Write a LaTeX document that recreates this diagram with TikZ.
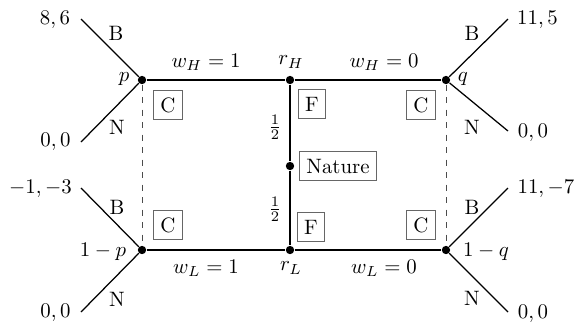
\documentclass[tikz,border=0pt]{standalone}
\begin{document}
\begin{tikzpicture}[x=0.48pt,y=-0.48pt,
  dot/.style={circle,fill=black,inner sep=0pt,minimum size=4pt},
  mainline/.style={line width=0.9pt},
  branch/.style={line width=0.6pt},
  info/.style={dashed,line width=0.4pt,black!70},
  lbox/.style={draw=black!60,line width=0.4pt,inner sep=3.4pt},
  txt/.style={inner sep=0pt}]
\useasboundingbox (0,0) rectangle (581,324);
% decision nodes
\node[dot] (p) at (142,80) {};
\node[dot] (q) at (446,80) {};
\node[dot] (lp) at (142,250) {};
\node[dot] (lq) at (446,250) {};
\node[dot] (rH) at (290,80) {};
\node[dot] (rL) at (290,250) {};
\node[dot] (nat) at (290,166) {};
% branch ends
\coordinate (pB) at (81,19);
\coordinate (pN) at (81,142);
\coordinate (qB) at (508,19);
\coordinate (qN) at (508,131);
\coordinate (lpB) at (81,188);
\coordinate (lpN) at (81,312);
\coordinate (lqB) at (508,188);
\coordinate (lqN) at (508,312);
% main lines
\draw[mainline] (p) -- (rH) -- (q);
\draw[mainline] (lp) -- (rL) -- (lq);
\draw[mainline] (rH) -- (nat) -- (rL);
% info sets
\draw[info] (p) -- (lp);
\draw[info] (q) -- (lq);
% branches
\draw[branch] (p) -- (pB);
\draw[branch] (p) -- (pN);
\draw[branch] (q) -- (qB);
\draw[branch] (q) -- (qN);
\draw[branch] (lp) -- (lpB);
\draw[branch] (lp) -- (lpN);
\draw[branch] (lq) -- (lqB);
\draw[branch] (lq) -- (lqN);
% payoffs
\node[txt] (t1) at (55,20) {$8,6$};
\node[txt] (t2) at (55.5,142) {$0,0$};
\node[txt] (t3) at (537.5,20) {$11,5$};
\node[txt] (t4) at (533,133) {$0,0$};
\node[txt] (t5) at (40.5,189) {$-1,-3$};
\node[txt] (t6) at (55.5,313) {$0,0$};
\node[txt] (t7) at (546,189) {$11,-7$};
\node[txt] (t8) at (533,314) {$0,0$};
% action labels
\node[txt] (b1) at (116,33) {B};
\node[txt] (n1) at (117,127) {N};
\node[txt] (b2) at (472,33) {B};
\node[txt] (n2) at (472,127) {N};
\node[txt] (b3) at (117,207) {B};
\node[txt] (n3) at (117,299) {N};
\node[txt] (b4) at (472,207) {B};
\node[txt] (n4) at (472,298) {N};
% beliefs
\node[txt] (lp1) at (124,79) {$p$};
\node[txt] (lq1) at (463,79) {$q$};
\node[txt] (lp2) at (103,252) {$1-p$};
\node[txt] (lq2) at (486,252) {$1-q$};
% wage labels
\node[txt] (w1) at (206,62) {$w_H=1$};
\node[txt] (w2) at (384,62) {$w_H=0$};
\node[txt] (w3) at (206,268) {$w_L=1$};
\node[txt] (w4) at (384,268) {$w_L=0$};
\node[txt] (rh) at (291,62) {$r_H$};
\node[txt] (rl) at (291,268) {$r_L$};
\node[txt] (h1) at (275,127) {$\frac{1}{2}$};
\node[txt] (h2) at (275,209) {$\frac{1}{2}$};
% boxes
\node[lbox] (c1) at (168,105) {C};
\node[lbox] (c2) at (421,105) {C};
\node[lbox] (c3) at (168,225) {C};
\node[lbox] (c4) at (421,225) {C};
\node[lbox] (f1) at (312,104) {F};
\node[lbox] (f2) at (311,227) {F};
\node[lbox] (nb) at (338,166) {Nature};
\end{tikzpicture}
\end{document}
